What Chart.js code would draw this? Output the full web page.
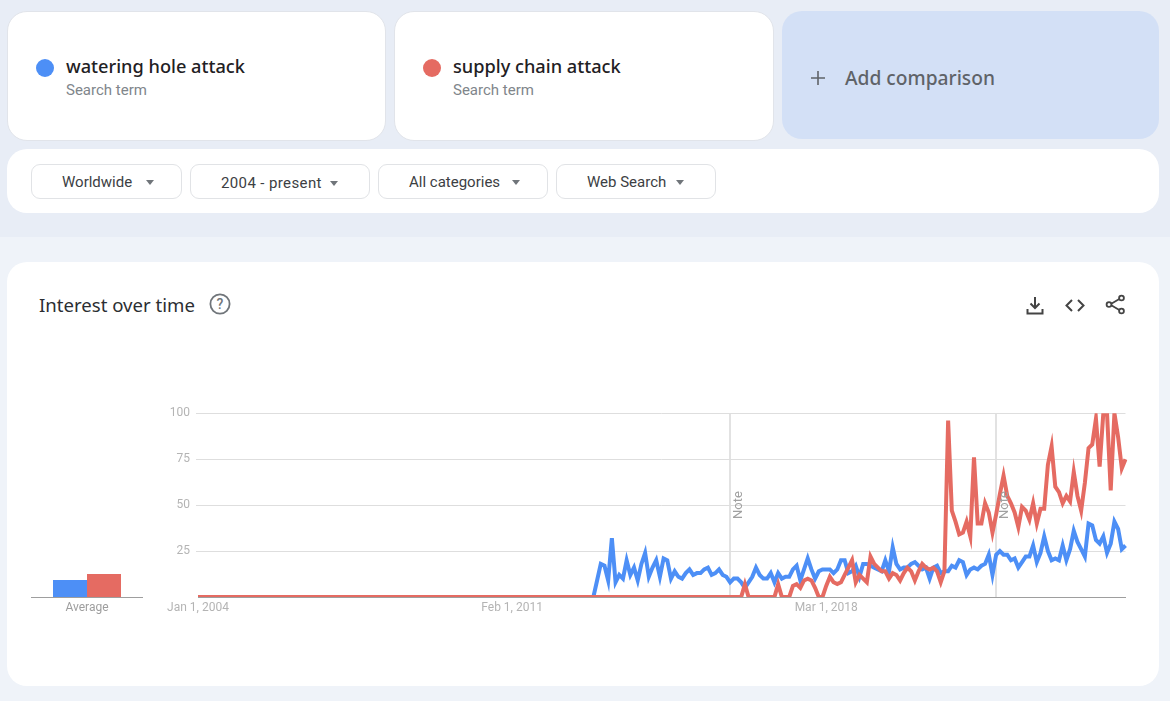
<!DOCTYPE html>
<html><head><meta charset="utf-8">
<script src="https://cdn.jsdelivr.net/npm/chart.js@4"></script>
<style>
html,body{margin:0;padding:0;width:1170px;height:701px;overflow:hidden;background:#eff3f9;font-family:Roboto,sans-serif}
.a{position:absolute;box-sizing:border-box}
#top{left:0;top:0;width:1170px;height:237px;background:#e8edf6}
.card{background:#fff;border:1px solid #e1e4ea;border-radius:20px}
.dot{width:18px;height:18px;border-radius:50%}
.term{font:500 18.2px "Noto Sans",sans-serif;color:#1f2124;white-space:nowrap;line-height:24px}
.sub{font:15px Roboto,sans-serif;color:#80868b;white-space:nowrap;line-height:18px}
.pill{height:35px;top:164px;background:#fff;border:1px solid #e1e3e6;border-radius:9px;font:15px/35px Roboto,sans-serif;color:#3c4043;white-space:nowrap}
.pill span{position:absolute;top:0}
.pill i{position:absolute;top:15px;width:0;height:0;border-left:4.5px solid transparent;border-right:4.5px solid transparent;border-top:5px solid #70757a}
canvas{position:absolute}
</style></head><body>
<div class="a" id="top"></div>
<div class="a card" style="left:7px;top:11px;width:379px;height:130px"></div>
<div class="a dot" style="left:36px;top:59px;background:#4d8ff6"></div>
<div class="a term" style="left:66px;top:54px">watering hole attack</div>
<div class="a sub" style="left:66px;top:81px">Search term</div>
<div class="a card" style="left:394px;top:11px;width:380px;height:130px"></div>
<div class="a dot" style="left:423px;top:59px;background:#e56b62"></div>
<div class="a term" style="left:453px;top:54px">supply chain attack</div>
<div class="a sub" style="left:453px;top:81px">Search term</div>
<div class="a" style="left:782px;top:11px;width:377px;height:128px;background:#d3e0f6;border-radius:20px"></div>
<svg class="a" style="left:810px;top:70px" width="16" height="16"><path d="M8 1v14M1 8h14" stroke="#5f6368" stroke-width="1.6" fill="none"/></svg>
<div class="a" style="left:845px;top:66px;font:500 19.2px/24px 'Noto Sans',sans-serif;color:#5f6368;white-space:nowrap">Add comparison</div>
<div class="a" style="left:7px;top:149px;width:1152px;height:64px;background:#fff;border-radius:20px"></div>
<div class="a pill" style="left:31px;width:151px"><span style="left:30px">Worldwide</span><i style="left:113.500px"></i></div>
<div class="a pill" style="left:190px;width:180px"><span style="left:30px;top:1px;letter-spacing:.38px">2004 - present</span><i style="left:138.500px;top:16px"></i></div>
<div class="a pill" style="left:378px;width:170px"><span style="left:30px">All categories</span><i style="left:132.500px"></i></div>
<div class="a pill" style="left:556px;width:160px"><span style="left:30px">Web Search</span><i style="left:118.500px"></i></div>
<div class="a" style="left:7px;top:262px;width:1152px;height:424px;background:#fff;border-radius:20px"></div>
<div class="a" style="left:39px;top:293px;font:400 18.600px/24px 'Noto Sans',sans-serif;color:#2b2e32;white-space:nowrap">Interest over time</div>
<svg class="a" style="left:208px;top:292px" width="24" height="24" viewBox="0 0 24 24"><circle cx="12" cy="12" r="9.6" fill="none" stroke="#70757a" stroke-width="1.8"/><text x="12" y="17" text-anchor="middle" font-family="Roboto" font-weight="500" font-size="14" fill="#70757a">?</text></svg>
<svg class="a" style="left:1024px;top:294px" width="22" height="24"><path d="M11 3v11M6.500 9.500L11 14l4.500-4.500M3.500 15v4.500h15V15" fill="none" stroke="#444" stroke-width="2"/></svg>
<svg class="a" style="left:1064px;top:296px" width="22" height="20"><path d="M8 4L2.500 9.500 8 15M14 4l5.500 5.500L14 15" fill="none" stroke="#444" stroke-width="2"/></svg>
<svg class="a" style="left:1103px;top:293px" width="24" height="24"><path d="M7 11.500L18 5M7 11.500L18 18" stroke="#444" stroke-width="1.800" fill="none"/><circle cx="6" cy="11.500" r="2.400" fill="#fff" stroke="#444" stroke-width="1.800"/><circle cx="18.500" cy="5" r="2.400" fill="#fff" stroke="#444" stroke-width="1.800"/><circle cx="18.500" cy="18" r="2.400" fill="#fff" stroke="#444" stroke-width="1.800"/></svg>
<canvas id="avg" style="left:31px;top:400px;width:112px;height:220px" width="112" height="220"></canvas>
<canvas id="main" style="left:130px;top:400px;width:1010px;height:220px" width="1010" height="220"></canvas>
<script>
const seriesNames = ["watering hole attack", "supply chain attack"];
const seriesColors = ["#4d8ff6", "#e56b62"];
const averageLabel = ["Average"];
const averageValues = [9.2, 12.4];
const yTicks = [25, 50, 75, 100];
const xTickLabels = {0: "Jan 1, 2004", 85: "Feb 1, 2011", 170: "Mar 1, 2018"};
const noteMonths = [144, 216];
const monthNames = ["Jan","Feb","Mar","Apr","May","Jun","Jul","Aug","Sep","Oct","Nov","Dec"];
const years = [2004,2005,2006,2007,2008,2009,2010,2011,2012,2013,2014,2015,2016,2017,2018,2019,2020,2021,2022,2023,2024];
const wateringHole = [
0,0,0,0,0,0,0,0,0,0,0,0,
0,0,0,0,0,0,0,0,0,0,0,0,
0,0,0,0,0,0,0,0,0,0,0,0,
0,0,0,0,0,0,0,0,0,0,0,0,
0,0,0,0,0,0,0,0,0,0,0,0,
0,0,0,0,0,0,0,0,0,0,0,0,
0,0,0,0,0,0,0,0,0,0,0,0,
0,0,0,0,0,0,0,0,0,0,0,0,
0,0,0,0,0,0,0,0,0,0,0,0,
9,18,17,9,32,8,12,10,20,12,16,9,
18,24,11,16,20,11,21,20,10,14,11,10,
13,15,12,13,13,15,16,12,13,15,12,11,
8,10,10,8,5,8,11,16,12,10,10,13,
8,13,10,11,11,15,17,9,15,21,15,10,
14,15,15,15,13,15,20,20,13,14,17,11,
18,18,17,16,15,14,20,14,27,18,15,16,
16,18,19,17,15,16,10,16,17,13,14,14,
17,16,20,19,12,15,16,15,17,18,23,12,
23,25,23,23,20,21,16,19,22,22,28,19,
24,33,25,20,21,20,28,20,26,36,30,26,
22,40,39,31,29,33,24,29,41,37,26,28];
const supplyChain = [
0,0,0,0,0,0,0,0,0,0,0,0,
0,0,0,0,0,0,0,0,0,0,0,0,
0,0,0,0,0,0,0,0,0,0,0,0,
0,0,0,0,0,0,0,0,0,0,0,0,
0,0,0,0,0,0,0,0,0,0,0,0,
0,0,0,0,0,0,0,0,0,0,0,0,
0,0,0,0,0,0,0,0,0,0,0,0,
0,0,0,0,0,0,0,0,0,0,0,0,
0,0,0,0,0,0,0,0,0,0,0,0,
0,0,0,0,0,0,0,0,0,0,0,0,
0,0,0,0,0,0,0,0,0,0,0,0,
0,0,0,0,0,0,0,0,0,0,0,0,
0,0,0,0,7,0,0,0,0,0,0,0,
0,7,0,0,0,6,7,5,9,10,9,5,
0,0,6,11,8,7,8,12,16,20,8,12,
10,8,22,18,16,14,14,10,13,12,9,13,
16,14,9,14,18,16,15,16,14,8,14,96,
47,41,34,35,41,33,76,40,40,51,46,35,
45,56,66,55,51,46,38,49,47,42,51,40,
48,48,72,82,60,57,51,55,52,68,55,47,
62,81,83,97,71,100,100,58,100,87,70,75];
const categories = years.flatMap(y => monthNames.map(m => m + " " + y));

const tickFont = {family: "Roboto", size: 12};
const tickColor = "#b4b4b4";

const noteLabels = {
  id: "noteLabels",
  afterDatasetsDraw(c) {
    const {ctx, scales} = c;
    noteMonths.forEach(m => {
      ctx.save();
      ctx.translate(scales.x.getPixelForValue(m) + 9, scales.y.getPixelForValue(50));
      ctx.rotate(-Math.PI / 2);
      ctx.font = "13px Roboto";
      ctx.fillStyle = "#a0a0a0";
      ctx.textAlign = "center";
      ctx.textBaseline = "middle";
      ctx.fillText("Note", 0, 0);
      ctx.restore();
    });
  }
};

new Chart(document.getElementById("main"), {
  type: "line",
  data: {labels: categories, datasets: [
    {label: seriesNames[0], data: wateringHole, order: 2, borderColor: seriesColors[0], borderWidth: 4, pointRadius: 0, tension: 0, borderJoinStyle: "miter"},
    {label: seriesNames[1], data: supplyChain, order: 1, borderColor: seriesColors[1], borderWidth: 4, pointRadius: 0, tension: 0, borderJoinStyle: "miter"}
  ]},
  plugins: [noteLabels],
  options: {
    responsive: false, animation: false, events: [],
    layout: {padding: {top: 11.5, right: 14.500, left: 0, bottom: 0}},
    plugins: {legend: {display: false}, tooltip: {enabled: false}},
    scales: {
      x: {
        type: "category", offset: false,
        afterFit: s => { s.height = 23; },
        border: {display: true, color: "#9e9e9e", width: 1},
        grid: {drawTicks: false, lineWidth: ctx => noteMonths.includes(ctx.index) ? 2 : 0, color: "#e2e2e2"},
        ticks: {autoSkip: false, maxRotation: 0, minRotation: 0, padding: 4, font: tickFont, color: tickColor,
          callback: (v, i) => xTickLabels[i] || ""}
      },
      y: {
        min: 0, max: 100,
        afterFit: s => { s.width = 68; },
        afterBuildTicks: s => { s.ticks = yTicks.map(value => ({value})); },
        border: {display: false},
        grid: {color: "#dedede", lineWidth: 1, tickLength: 2},
        ticks: {padding: 6, font: tickFont, color: tickColor}
      }
    }
  }
});

new Chart(document.getElementById("avg"), {
  type: "bar",
  data: {labels: averageLabel, datasets: [
    {label: seriesNames[0], data: [averageValues[0]], backgroundColor: seriesColors[0]},
    {label: seriesNames[1], data: [averageValues[1]], backgroundColor: seriesColors[1]}
  ]},
  options: {
    responsive: false, animation: false, events: [],
    layout: {padding: {top: 12, left: 0, right: 0, bottom: 0}},
    plugins: {legend: {display: false}, tooltip: {enabled: false}},
    datasets: {bar: {categoryPercentage: 68 / 112, barPercentage: 1}},
    scales: {
      x: {
        afterFit: s => { s.height = 23; },
        border: {display: true, color: "#9e9e9e"},
        grid: {display: false, drawTicks: false},
        ticks: {padding: 4, font: tickFont, color: "#9e9e9e", maxRotation: 0}
      },
      y: {display: false, min: 0, max: 100}
    }
  }
});
</script>
</body></html>
